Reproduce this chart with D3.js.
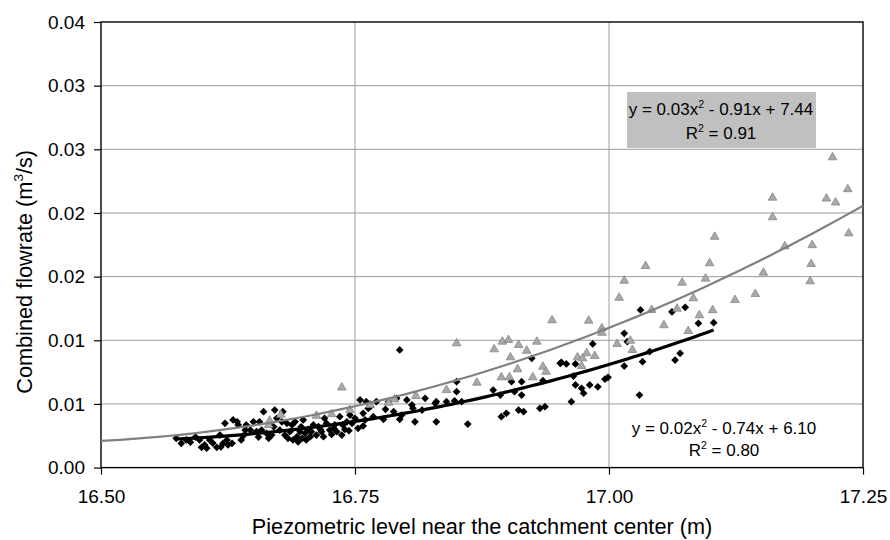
<!DOCTYPE html>
<html><head><meta charset="utf-8">
<script src="https://cdn.jsdelivr.net/npm/d3@7"></script>
<style>
body{margin:0;background:#fff}
text{font-family:Arial,"Liberation Sans",sans-serif;fill:#000}
</style>
</head><body>
<svg id="chart" width="890" height="540"></svg>
<script>
// ---------- data ----------
const xTickValues = [16.5, 16.75, 17.0, 17.25];
const xTickLabels = ["16.50", "16.75", "17.00", "17.25"];
const yTickValues = [0, 0.005, 0.01, 0.015, 0.02, 0.025, 0.03, 0.035];
const yTickLabels = ["0.00", "0.01", "0.01", "0.02", "0.02", "0.03", "0.03", "0.04"];

const blackPoints = [
 [16.574,0.00230],[16.579,0.00191],[16.584,0.00217],[16.593,0.00240],[16.597,0.00217],[16.599,0.00159],
 [16.602,0.00178],[16.604,0.00152],[16.607,0.00217],[16.610,0.00193],[16.614,0.00159],[16.617,0.00256],
 [16.618,0.00162],[16.622,0.00348],[16.624,0.00217],[16.625,0.00178],[16.629,0.00191],[16.630,0.00374],
 [16.634,0.00360],[16.635,0.00335],[16.638,0.00217],[16.642,0.00295],[16.643,0.00335],[16.647,0.00295],
 [16.650,0.00360],[16.653,0.00282],[16.656,0.00360],[16.658,0.00295],[16.660,0.00439],[16.663,0.00269],
 [16.665,0.00230],[16.666,0.00348],[16.668,0.00256],[16.671,0.00452],[16.673,0.00387],[16.676,0.00295],
 [16.679,0.00439],[16.681,0.00256],[16.683,0.00348],[16.684,0.00230],[16.686,0.00282],[16.688,0.00335],
 [16.689,0.00217],[16.691,0.00360],[16.693,0.00243],[16.694,0.00203],[16.696,0.00282],[16.698,0.00230],
 [16.699,0.00374],[16.701,0.00269],[16.702,0.00217],[16.706,0.00243],[16.707,0.00282],[16.709,0.00335],
 [16.712,0.00256],[16.714,0.00321],[16.717,0.00282],[16.719,0.00243],[16.720,0.00387],[16.722,0.00348],
 [16.725,0.00295],[16.729,0.00309],[16.730,0.00335],[16.732,0.00282],[16.735,0.00400],[16.737,0.00256],
 [16.738,0.00335],[16.742,0.00360],[16.745,0.00413],[16.747,0.00348],[16.750,0.00387],[16.753,0.00309],
 [16.755,0.00531],[16.758,0.00426],[16.761,0.00518],[16.763,0.00466],
 [16.588,0.00200],[16.620,0.00190],[16.640,0.00250],[16.655,0.00240],[16.670,0.00320],[16.678,0.00360],
 [16.697,0.00320],[16.704,0.00300],[16.716,0.00300],[16.727,0.00260],[16.740,0.00300],[16.744,0.00290],
 [16.794,0.00924],[16.850,0.00675],[16.850,0.00596],[16.765,0.00478],[16.771,0.00518],[16.780,0.00458],
 [16.783,0.00518],[16.788,0.00439],[16.791,0.00544],[16.801,0.00531],[16.806,0.00492],[16.807,0.00466],
 [16.794,0.00379],[16.796,0.00413],[16.778,0.00379],[16.768,0.00400],[16.760,0.00374],[16.758,0.00327],
 [16.809,0.00360],[16.816,0.00452],[16.819,0.00544],[16.830,0.00360],[16.830,0.00518],[16.840,0.00518],
 [16.855,0.00518],[16.861,0.00342],[16.886,0.00609],[16.893,0.00570],[16.894,0.00400],[16.899,0.00426],
 [16.904,0.00675],[16.907,0.00596],[16.911,0.00452],[16.914,0.00570],[16.914,0.00675],[16.916,0.00439],
 [16.924,0.00858],[16.932,0.00466],[16.935,0.00683],[16.937,0.00478],[16.952,0.00819],[16.829,0.00505],
 [16.848,0.00525],
 [16.984,0.00971],[16.953,0.00827],[16.958,0.00814],[16.967,0.00814],[16.965,0.00719],[16.967,0.00649],
 [16.973,0.00623],[16.975,0.00584],[16.981,0.00649],[16.989,0.00635],[16.996,0.00694],[16.999,0.00709],
 [17.015,0.01055],[17.018,0.00989],[17.015,0.00798],[17.031,0.01238],[17.033,0.00832],[17.030,0.00570],
 [17.040,0.00910],[17.062,0.01224],[17.065,0.00845],[17.070,0.00898],[17.075,0.01259],[17.088,0.01133],
 [17.103,0.01138],[16.963,0.00518]
];

const greyPoints = [
 [17.220,0.02437],[17.161,0.02120],[17.161,0.01966],[17.214,0.02113],[17.223,0.02082],[17.235,0.02187],
 [17.104,0.01813],[17.236,0.01840],[17.200,0.01747],[17.173,0.01738],[17.099,0.01605],[17.199,0.01599],
 [17.095,0.01484],[17.152,0.01531],[17.198,0.01463],[17.144,0.01363],[17.124,0.01316],[17.083,0.01330],
 [17.102,0.01236],[17.089,0.01196],[17.036,0.01583],[17.015,0.01468],[17.072,0.01452],[17.010,0.01334],
 [17.042,0.01238],[17.067,0.01248],[16.944,0.01157],[16.980,0.01154],[17.054,0.01118],[16.993,0.01094],
 [16.993,0.01059],[17.078,0.01073],[17.008,0.00971],[17.021,0.00997],[17.023,0.00924],[16.969,0.00866],
 [16.974,0.00858],[16.978,0.00898],[16.986,0.00876],[16.973,0.00798],[16.935,0.00792],[16.938,0.00753],
 [16.850,0.00976],[16.887,0.00929],[16.895,0.00989],[16.901,0.01002],[16.911,0.00963],[16.929,0.00989],
 [16.919,0.00918],[16.903,0.00866],[16.910,0.00772],[16.894,0.00709],[16.902,0.00709],[16.925,0.00709],
 [16.870,0.00667],[16.840,0.00609],[16.810,0.00562],[16.737,0.00629],[16.745,0.00452],[16.727,0.00419],
 [16.712,0.00407],[16.677,0.00415],[16.665,0.00335],[16.666,0.00368],[16.765,0.00492],[16.783,0.00510],
 [16.789,0.00536]
];

// quadratic trend coefficients [c, b, a] in (x - 16.5)
const trendOrigin = 16.5;
const blackTrend = [0.0021, 0.0002, 0.0236];
const greyTrend = [0.0021, 0.0040, 0.0275];
const blackTrendRange = [16.575, 17.103];
const greyTrendRange = [16.5, 17.25];

const blackEquation = ["y = 0.02x", "2", " - 0.74x + 6.10"];
const blackR2 = ["R", "2", " = 0.80"];
const greyEquation = ["y = 0.03x", "2", " - 0.91x + 7.44"];
const greyR2 = ["R", "2", " = 0.91"];

const xTitle = "Piezometric level near the catchment center (m)";
const yTitle = ["Combined flowrate (m", "3", "/s)"];

// ---------- drawing ----------
const W = 890, H = 540;
const M = {left: 101, right: 27, top: 22, bottom: 72.4};
const FONT = "Arial, 'Liberation Sans', sans-serif";
const svg = d3.select("#chart");
svg.append("rect").attr("width", W).attr("height", H).attr("fill", "#fff");

const x = d3.scaleLinear().domain([16.5, 17.25]).range([M.left, W - M.right]);
const y = d3.scaleLinear().domain([0, 0.035]).range([H - M.bottom, M.top]);

// gridlines
const grid = svg.append("g");
grid.selectAll(".hg").data(yTickValues.slice(1, -1)).join("line")
  .attr("x1", x.range()[0]).attr("x2", x.range()[1])
  .attr("y1", d => y(d)).attr("y2", d => y(d))
  .attr("stroke", "#9c9c9c").attr("stroke-width", 1);
grid.selectAll(".vg").data(xTickValues.slice(1, -1)).join("line")
  .attr("y1", y.range()[0]).attr("y2", y.range()[1])
  .attr("x1", d => x(d)).attr("x2", d => x(d))
  .attr("stroke", "#9c9c9c").attr("stroke-width", 1);

// axes
const xAxis = d3.axisBottom(x).tickValues(xTickValues)
  .tickFormat((d, i) => xTickLabels[i]).tickSize(7).tickPadding(15);
const gx = svg.append("g").attr("transform", `translate(0,${y(0)})`).call(xAxis);
gx.select(".domain").remove();
gx.selectAll("line").attr("stroke", "#000").attr("stroke-width", 1.2);
gx.selectAll("text").attr("font-size", 19).attr("font-family", FONT).attr("fill", "#000");

const yAxis = d3.axisLeft(y).tickValues(yTickValues)
  .tickFormat((d, i) => yTickLabels[i]).tickSize(7).tickPadding(9);
const gy = svg.append("g").attr("transform", `translate(${x(16.5)},0)`).call(yAxis);
gy.select(".domain").remove();
gy.selectAll("line").attr("stroke", "#000").attr("stroke-width", 1.2);
gy.selectAll("text").attr("font-size", 19).attr("font-family", FONT).attr("fill", "#000");

// frame
svg.append("rect")
  .attr("x", x.range()[0]).attr("y", y.range()[1])
  .attr("width", x.range()[1] - x.range()[0]).attr("height", y.range()[0] - y.range()[1])
  .attr("fill", "none").attr("stroke", "#000").attr("stroke-width", 1.4);

// black diamonds
svg.append("g").selectAll("path").data(blackPoints).join("path")
  .attr("d", d3.symbol(d3.symbolSquare, 30)())
  .attr("transform", d => `translate(${x(d[0])},${y(d[1])}) rotate(45)`)
  .attr("fill", "#000");

// grey triangles
svg.append("g").selectAll("path").data(greyPoints).join("path")
  .attr("d", d3.symbol(d3.symbolTriangle, 32)())
  .attr("transform", d => `translate(${x(d[0])},${y(d[1])})`)
  .attr("fill", "#a9a9a9").attr("stroke", "#858585").attr("stroke-width", 0.8);

// trendlines
function trendSamples(coef, range) {
  const n = 80;
  return d3.range(n + 1).map(i => {
    const xv = range[0] + (range[1] - range[0]) * i / n;
    const t = xv - trendOrigin;
    return [xv, coef[0] + coef[1] * t + coef[2] * t * t];
  });
}
const line = d3.line().x(d => x(d[0])).y(d => y(d[1]));
svg.append("path").attr("d", line(trendSamples(blackTrend, blackTrendRange)))
  .attr("fill", "none").attr("stroke", "#000").attr("stroke-width", 3.2);
svg.append("path").attr("d", line(trendSamples(greyTrend, greyTrendRange)))
  .attr("fill", "none").attr("stroke", "#808080").attr("stroke-width", 2.2);

// equation labels
function supText(g, parts, cx, by, size) {
  const t = g.append("text").attr("x", cx).attr("y", by).attr("text-anchor", "middle")
    .attr("font-size", size);
  t.append("tspan").text(parts[0]);
  t.append("tspan").attr("dy", -size * 0.4).attr("font-size", size * 0.62).text(parts[1]);
  t.append("tspan").attr("dy", size * 0.4).text(parts[2]);
  return t;
}
svg.append("rect").attr("x", 627).attr("y", 92).attr("width", 189).attr("height", 56)
  .attr("fill", "#c0c0c0");
supText(svg, greyEquation, 721, 115, 17);
supText(svg, greyR2, 721, 138.5, 17);
supText(svg, blackEquation, 724, 433.5, 17);
supText(svg, blackR2, 724, 456, 17);

// axis titles
svg.append("text").attr("x", (x.range()[0] + x.range()[1]) / 2).attr("y", 534)
  .attr("text-anchor", "middle").attr("font-size", 21.7).text(xTitle);
const yt = svg.append("text")
  .attr("transform", `translate(32,150) rotate(-90)`)
  .attr("text-anchor", "end").attr("font-size", 21.7);
yt.append("tspan").text(yTitle[0]);
yt.append("tspan").attr("dy", -9).attr("font-size", 13.5).text(yTitle[1]);
yt.append("tspan").attr("dy", 9).text(yTitle[2]);
</script>
</body></html>
